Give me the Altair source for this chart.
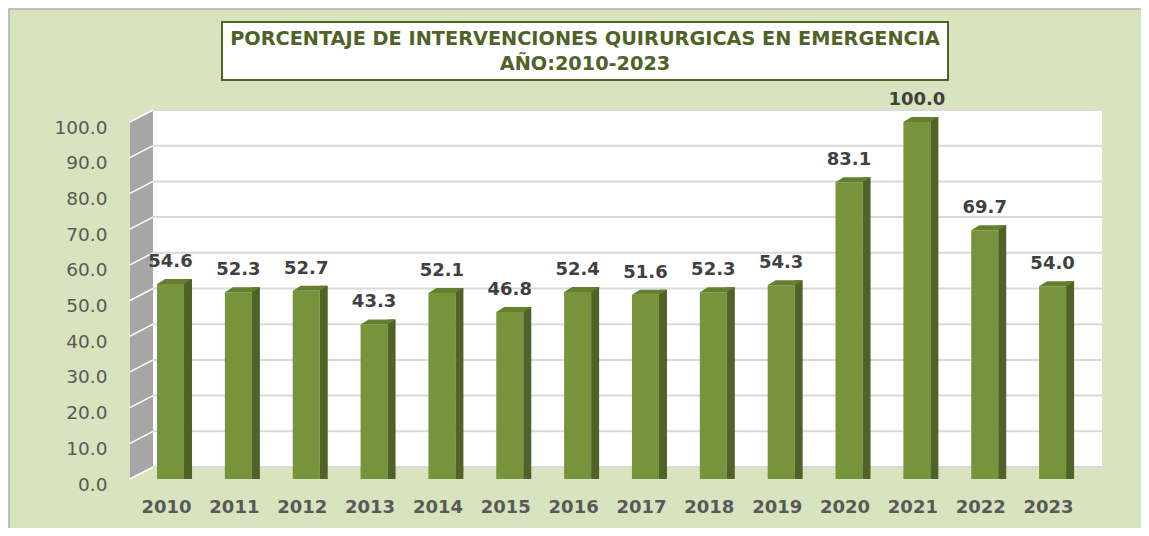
import altair as alt
import pandas as pd

years = [str(y) for y in range(2010, 2024)]
values = [54.6, 52.3, 52.7, 43.3, 52.1, 46.8, 52.4, 51.6, 52.3, 54.3, 83.1, 100.0, 69.7, 54.0]
y_ticks = [0, 10, 20, 30, 40, 50, 60, 70, 80, 90, 100]
title_lines = ["PORCENTAJE DE INTERVENCIONES QUIRURGICAS EN EMERGENCIA", "AÑO:2010-2023"]

df = pd.DataFrame({"year": years, "value": values})
grid_df = pd.DataFrame({"v": y_ticks})
wall_df = pd.DataFrame({"top": [100], "bottom": [0]})
one_df = pd.DataFrame({"v": [0]})

W, H = 972, 357
DX, DY = 23, 12          # depth of the 3D wall
FRONT, SIDE, BDY = 27, 8, 5  # bar front width, side width, top depth

BG = "#d7e4bd"
FRONT_C = "#77933c"
SIDE_C = "#4f6228"
TOP_C = "#64802f"

xscale = alt.Scale(domain=years, range=[6.6, 956.5], paddingInner=0, paddingOuter=0)
yscale = alt.Scale(domain=[0, 100], nice=False, zero=True)
yaxis = alt.Axis(values=y_ticks, format=".1f", title=None)
xaxis = alt.Axis(title=None)

X = alt.X("year:N", scale=xscale, axis=xaxis, sort=years)


def Y(field):
    return alt.Y(field, scale=yscale, axis=yaxis)


wall = alt.Chart(wall_df).mark_rect(color="white", yOffset=-DY, y2Offset=-DY).encode(
    x=alt.value(DX), x2=alt.value(W), y=Y("top:Q"), y2="bottom:Q"
)
grid = alt.Chart(grid_df).mark_rule(color="#d9d9d9", strokeWidth=2, yOffset=-DY).encode(
    x=alt.value(DX), x2=alt.value(W), y=Y("v:Q")
)
side_wall = alt.Chart(one_df).mark_point(
    shape=f"M0,0L{DX},{-DY}L{DX},{-(H + DY)}L0,{-H}Z",
    size=4, filled=True, opacity=1, color="#a6a6a6", strokeWidth=0,
).encode(x=alt.value(0), y=Y("v:Q"))
side_grid = alt.Chart(grid_df).mark_rule(color="white", strokeWidth=1.5, y2Offset=-DY).encode(
    x=alt.value(0), x2=alt.value(DX), y=Y("v:Q"), y2="v:Q"
)

front = alt.Chart(df).mark_bar(size=FRONT, color=FRONT_C).encode(
    x=X, y=Y("value:Q"), y2=alt.datum(0)
)
side = alt.Chart(df).mark_bar(
    size=SIDE, color=SIDE_C, xOffset=FRONT / 2 + SIDE / 2, yOffset=-BDY
).encode(x=X, y=Y("value:Q"), y2=alt.datum(0))
top = alt.Chart(df).mark_point(
    shape=f"M{-FRONT/2},0L{FRONT/2},0L{FRONT/2 + SIDE},{-BDY}L{-FRONT/2 + SIDE},{-BDY}Z",
    size=4, filled=True, opacity=1, color=TOP_C, strokeWidth=0,
).encode(x=X, y=Y("value:Q"))
labels = alt.Chart(df).mark_text(
    dy=-22, font="DejaVu Sans", fontWeight="bold", fontSize=18, color="#404040", baseline="middle"
).encode(x=X, y=Y("value:Q"), text=alt.Text("value:Q", format=".1f"))

title_box = alt.Chart(one_df).mark_rect(fill="white", stroke="#4f6228", strokeWidth=2).encode(
    x=alt.value(92), x2=alt.value(818), y=alt.value(-100), y2=alt.value(-42)
)
title1 = alt.Chart(one_df).mark_text(
    text=title_lines[0], font="DejaVu Sans", fontWeight="bold", fontSize=19.3, color="#4f6228", baseline="middle"
).encode(x=alt.value(455), y=alt.value(-83))
title2 = alt.Chart(one_df).mark_text(
    text=title_lines[1], font="DejaVu Sans", fontWeight="bold", fontSize=19.3, color="#4f6228", baseline="middle"
).encode(x=alt.value(455), y=alt.value(-58))
border_left = alt.Chart(one_df).mark_rule(stroke="#bfbfbf", strokeWidth=2).encode(
    x=alt.value(-121), y=alt.value(-113), y2=alt.value(H + 70)
)
border_top = alt.Chart(one_df).mark_rule(stroke="#bfbfbf", strokeWidth=2).encode(
    x=alt.value(-121), x2=alt.value(W + 60), y=alt.value(-113)
)

chart = alt.layer(
    border_left, border_top, wall, grid, side_wall, side_grid, front, side, top, labels,
    title_box, title1, title2
).properties(
    width=W, height=H,
    padding={"left": 122, "top": 114, "right": 39, "bottom": 49},
    autosize=alt.AutoSizeParams(type="none"),
    background=BG,
).configure_view(strokeWidth=0).configure_axisX(
    domain=False, ticks=False, labelFont="DejaVu Sans", labelFontWeight="bold", labelFontSize=18,
    labelColor="#595959", labelPadding=19, labelOffset=-4, labelAngle=0, grid=False,
).configure_axisY(
    domain=False, ticks=False, labelFont="DejaVu Sans", labelFontSize=18.5,
    labelColor="#595959", labelPadding=23, labelOffset=5, grid=False,
)

chart.save("out.html", embed_options={"renderer": "svg", "actions": False})
